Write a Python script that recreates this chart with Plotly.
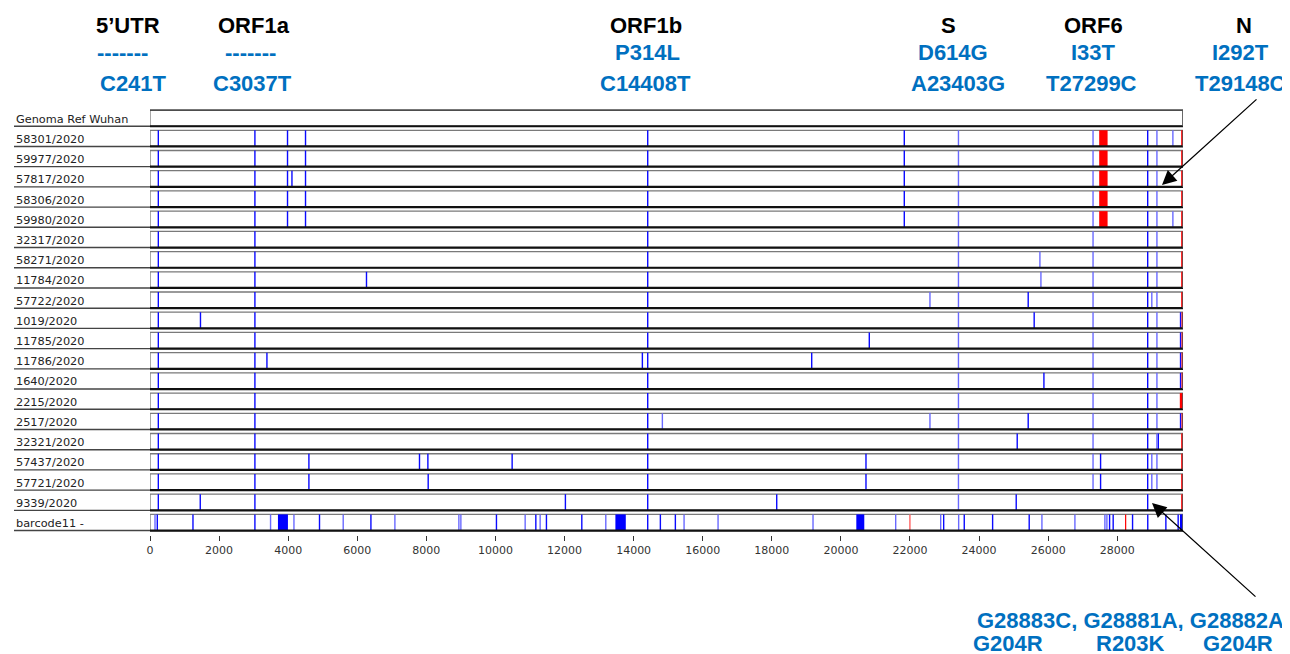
import plotly.graph_objects as go

GENOME_LEN = 29903

row_labels = ["Genoma Ref Wuhan", "58301/2020", "59977/2020", "57817/2020", "58306/2020",
              "59980/2020", "32317/2020", "58271/2020", "11784/2020", "57722/2020",
              "1019/2020", "11785/2020", "11786/2020", "1640/2020", "2215/2020",
              "2517/2020", "32321/2020", "57437/2020", "57721/2020", "9339/2020",
              "barcode11 -"]

# single-nucleotide variant positions (blue lines) per row
mutations = [
    [],
    [241, 3037, 3981, 4502, 14408, 21835, 23403, 27299, 28881, 29148, 29610],
    [241, 3037, 3981, 4502, 14408, 21835, 23403, 27299, 28881, 29148],
    [241, 3037, 3981, 4109, 4502, 14408, 21835, 23403, 27299, 28881, 29148],
    [241, 3037, 3981, 4502, 14408, 21835, 23403, 27299, 28881, 29148],
    [241, 3037, 3981, 4502, 14408, 21835, 23403, 27299, 28881, 29148, 29610],
    [241, 3037, 14408, 23403, 27299, 28881, 29148],
    [241, 3037, 14408, 23403, 25761, 27299, 28881, 29148],
    [241, 3037, 6267, 14408, 23403, 25790, 27299, 28881, 29148],
    [241, 3037, 14408, 22578, 23403, 25422, 27299, 28881, 29000, 29148],
    [241, 1461, 3037, 14408, 23403, 25595, 27299, 28881, 29148, 29832],
    [241, 3037, 14408, 20822, 23403, 27299, 28881, 29148, 29832],
    [241, 3037, 3385, 14253, 14408, 19155, 23403, 27299, 28881, 29148, 29832],
    [241, 3037, 14408, 23403, 25877, 27299, 28881, 29148, 29832],
    [241, 3037, 14408, 23403, 27299, 28881, 29148],
    [241, 3037, 14408, 14832, 22578, 23403, 25422, 27299, 28881, 29148, 29832],
    [241, 3037, 14408, 23403, 25104, 27299, 28881, 29148, 29188],
    [241, 3037, 4600, 7801, 8044, 10483, 14408, 20726, 23403, 27299, 27517, 28881, 29000, 29148],
    [241, 3037, 4600, 8053, 14408, 20726, 23403, 27299, 27517, 28881, 29000, 29148],
    [241, 1455, 3037, 12025, 14408, 18142, 23403, 25075, 28881],
    [145, 211, 1244, 3037, 3490, 4167, 4907, 5593, 6395, 7089, 8941, 8999, 10029, 10860,
     11169, 11294, 11476, 12500, 13194, 14408, 14774, 15208, 15460, 16444, 19193, 21586,
     22888, 22975, 23409, 23571, 24392, 25451, 25819, 26774, 27642, 27700, 27778, 27882,
     28443, 28883, 29407, 29763],
]

# lighter-blue variant positions
light_positions = [23403, 27299, 29148, 25761, 25790, 22578, 29610, 14832, 29000,
                   145, 3490, 4167, 5593, 7089, 8941, 8999, 10860, 11294, 13194,
                   15460, 16444, 19193, 21586, 22888, 23409, 25819, 26774, 27642, 27700]

# red regions (deletions / masked ends) per row: (start, end)
red_regions = [
    [],
    [(27477, 27720), (29850, 29903)],
    [(27477, 27720), (29850, 29903)],
    [(27477, 27720), (29850, 29903)],
    [(27477, 27720), (29850, 29903)],
    [(27477, 27720), (29850, 29903)],
    [(29850, 29903)], [(29850, 29903)], [(29850, 29903)], [(29850, 29903)],
    [(29860, 29903)], [(29860, 29903)], [(29860, 29903)], [(29860, 29903)],
    [(29811, 29903)],
    [(29860, 29903)], [(29850, 29903)], [(29850, 29903)], [(29850, 29903)],
    [(29850, 29903)],
    [(21975, 22020), (28225, 28260)],
]

# solid blue regions per row
blue_regions = [[] for _ in range(20)] + [[(3704, 3993), (13472, 13773), (20446, 20677), (29815, 29893)]]

tick_values = list(range(0, 28001, 2000))

gene_names = ["5\u2019UTR", "ORF1a", "ORF1b", "S", "ORF6", "N"]
gene_px = [128, 254, 646, 948, 1093, 1244]
aa_changes = ["-------", "-------", "P314L", "D614G", "I33T", "I292T"]
aa_px = [122, 250, 647, 953, 1093, 1240]
nt_changes = ["C241T", "C3037T", "C14408T", "A23403G", "T27299C", "T29148C"]
nt_px = [133, 252, 645, 958, 1091, 1240]

bottom_nt = "G28883C, G28881A, G28882A"
bottom_aa = ["G204R", "R203K", "G204R"]
bottom_aa_px = [1008, 1130, 1238]

# ---------------- layout geometry ----------------
# page body has an 8px margin; reference pixel positions are window coordinates
OFF = 8
W, H = 1290 - OFF, 654 - OFF
L, R, T, B = 150 - OFF, 107, 104 - OFF, 119
PW, PH = W - L - R, H - T - B
Y_RANGE = [20.62, -0.7]
HALF = 0.4


def px2x(p):
    return (p - OFF - L) / PW


def px2y(p):
    return (H - B - (p - OFF)) / PH


BLUE = "rgb(10,10,255)"
LIGHT = "rgb(105,105,255)"
TXT_BLUE = "#0070C0"

fig = go.Figure()
shapes = []
for i, lab in enumerate(row_labels):
    shapes.append(dict(type="rect", xref="x", yref="y", x0=0, x1=GENOME_LEN,
                       y0=i - HALF, y1=i + HALF, fillcolor="white",
                       line=dict(color="#7a7a7a", width=1.3), layer="below"))

# vertical mutation lines
for color, light in ((BLUE, False), (LIGHT, True)):
    xs, ys = [], []
    for i, muts in enumerate(mutations):
        for p in muts:
            if (p in light_positions) == light:
                xs += [p, p, None]
                ys += [i - HALF, i + HALF, None]
    fig.add_trace(go.Scatter(x=xs, y=ys, mode="lines", line=dict(color=color, width=1.4),
                             hoverinfo="skip", showlegend=False))

for i, regs in enumerate(red_regions):
    for (a, b) in regs:
        col = "#ff7070" if (i == 20 and a < 25000) else "#ff0000"
        shapes.append(dict(type="rect", xref="x", yref="y", x0=a, x1=b,
                           y0=i - HALF, y1=i + HALF, fillcolor=col, line=dict(width=0), layer="above"))
for i, regs in enumerate(blue_regions):
    for (a, b) in regs:
        shapes.append(dict(type="rect", xref="x", yref="y", x0=a, x1=b,
                           y0=i - HALF, y1=i + HALF, fillcolor="#0000ff", line=dict(width=0), layer="above"))

# darker top edge on the reference genome row
shapes.append(dict(type="line", xref="x", yref="y", x0=0, x1=GENOME_LEN, y0=-HALF, y1=-HALF,
                   line=dict(color="#333", width=1.3), layer="above"))
for i, lab in enumerate(row_labels):
    shapes.append(dict(type="line", xref="x", yref="y", x0=0, x1=GENOME_LEN,
                       y0=i + HALF, y1=i + HALF, line=dict(color="#111", width=2.2), layer="above"))
    shapes.append(dict(type="line", xref="x", yref="y", x0=GENOME_LEN, x1=GENOME_LEN,
                       y0=i - HALF, y1=i + HALF, line=dict(color="#555", width=1.5), layer="above"))
    shapes.append(dict(type="line", xref="paper", yref="y", x0=px2x(14), x1=px2x(150),
                       y0=i + HALF, y1=i + HALF, line=dict(color="#444", width=1.4), layer="above"))

annotations = []
for i, lab in enumerate(row_labels):
    annotations.append(dict(xref="paper", yref="y", x=px2x(14), y=i, text=lab, showarrow=False,
                            xanchor="left", yanchor="middle", yshift=-1,
                            font=dict(family="DejaVu Sans", size=11.3, color="#222")))

HF = "Liberation Sans, Arial"
for name, p in zip(gene_names, gene_px):
    annotations.append(dict(xref="paper", yref="paper", x=px2x(p), y=px2y(26), text=name,
                            showarrow=False, xanchor="center", yanchor="middle",
                            font=dict(family=HF, size=22, color="black", weight="bold")))
for name, p in zip(aa_changes, aa_px):
    annotations.append(dict(xref="paper", yref="paper", x=px2x(p), y=px2y(53), text=name,
                            showarrow=False, xanchor="center", yanchor="middle",
                            font=dict(family=HF, size=22, color=TXT_BLUE, weight="bold")))
for name, p in zip(nt_changes, nt_px):
    annotations.append(dict(xref="paper", yref="paper", x=px2x(p), y=px2y(84), text=name,
                            showarrow=False, xanchor="center", yanchor="middle",
                            font=dict(family=HF, size=22, color=TXT_BLUE, weight="bold")))
annotations.append(dict(xref="paper", yref="paper", x=px2x(1130), y=px2y(620), text=bottom_nt,
                        showarrow=False, xanchor="center", yanchor="middle", height=22,
                        font=dict(family=HF, size=22, color=TXT_BLUE, weight="bold")))
for name, p in zip(bottom_aa, bottom_aa_px):
    annotations.append(dict(xref="paper", yref="paper", x=px2x(p), y=px2y(643), text=name,
                            showarrow=False, xanchor="center", yanchor="middle", height=22,
                            font=dict(family=HF, size=22, color=TXT_BLUE, weight="bold")))

# arrows
annotations.append(dict(xref="paper", yref="paper", x=px2x(1162), y=px2y(185), text="",
                        showarrow=True, ax=96, ay=-87, arrowhead=2, arrowsize=2.2,
                        arrowwidth=1.3, arrowcolor="black", standoff=0))
annotations.append(dict(xref="paper", yref="paper", x=px2x(1152), y=px2y(503), text="",
                        showarrow=True, ax=105, ay=95, arrowhead=2, arrowsize=2.2,
                        arrowwidth=1.3, arrowcolor="black", standoff=0))

fig.update_layout(
    width=W, height=H, margin=dict(l=L, r=R, t=T, b=B),
    paper_bgcolor="white", plot_bgcolor="white",
    shapes=shapes, annotations=annotations, showlegend=False,
    xaxis=dict(range=[0, GENOME_LEN], tickvals=tick_values, tickformat="d", ticks="outside",
               ticklen=5, tickcolor="#333", tickwidth=1, showline=False, showgrid=False,
               zeroline=False, tickfont=dict(family="DejaVu Sans", size=11, color="#333"),
               fixedrange=True),
    yaxis=dict(range=Y_RANGE, showticklabels=False, showgrid=False, zeroline=False,
               showline=False, ticks="", fixedrange=True),
)

fig.write_html("out.html")
